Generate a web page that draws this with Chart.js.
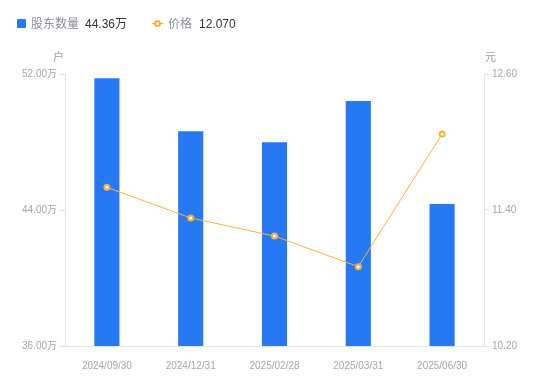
<!DOCTYPE html>
<html>
<head>
<meta charset="utf-8">
<script src="https://cdn.jsdelivr.net/npm/chart.js@4/dist/chart.umd.min.js"></script>
<style>
  html, body { margin: 0; padding: 0; background: #fff; }
  #wrap { position: relative; width: 550px; height: 381px; font-family: "Liberation Sans", Arial, "Noto Sans CJK SC", sans-serif; }
  canvas { position: absolute; left: 0; top: 0; }
  .t { position: absolute; white-space: nowrap; line-height: 1; }
  .lg { font-size: 12px; top: 18px; }
  .gray { color: #8a8f99; }
  .dark { color: #333; }
  .unit { font-size: 11px; color: #9a9ea8; top: 52px; }
  #sq { position: absolute; left: 17px; top: 19px; width: 9px; height: 9px; background: #2679F2; border-radius: 1px; }
  #ln { position: absolute; left: 152px; top: 23px; width: 11px; height: 1px; background: #FBB03B; }
  #dot { position: absolute; left: 154px; top: 20px; width: 3px; height: 3px; border: 2px solid #FBB03B; background: #fff; border-radius: 50%; }
</style>
</head>
<body>
<div id="wrap">
  <canvas id="c" width="550" height="381"></canvas>
  <div id="sq"></div>
  <div class="t lg gray" style="left:31px" id="l1name"></div>
  <div class="t lg dark" style="left:85px" id="l1val"></div>
  <div id="ln"></div><div id="dot"></div>
  <div class="t lg gray" style="left:168px" id="l2name"></div>
  <div class="t lg dark" style="left:199px" id="l2val"></div>
  <div class="t unit" style="left:53px" id="u1"></div>
  <div class="t unit" style="left:485px" id="u2"></div>
</div>
<script>
const categories = ["2024/09/30", "2024/12/31", "2025/02/28", "2025/03/31", "2025/06/30"];
const holders = [51.75, 48.63, 47.98, 50.41, 44.36];   // 股东数量 (万户)
const prices = [11.60, 11.33, 11.17, 10.90, 12.07];    // 价格 (元)
const leftTicks = [36, 44, 52];
const rightTicks = [10.20, 11.40, 12.60];
const seriesNames = ["股东数量", "价格"];
const unitLeft = "户";
const unitRight = "元";

document.getElementById('l1name').textContent = seriesNames[0];
document.getElementById('l1val').textContent = holders[holders.length - 1].toFixed(2) + '万';
document.getElementById('l2name').textContent = seriesNames[1];
document.getElementById('l2val').textContent = prices[prices.length - 1].toFixed(3);
document.getElementById('u1').textContent = unitLeft;
document.getElementById('u2').textContent = unitRight;

const axisColor = '#e3e4e8';
const tickColor = '#a3a7b3';
const tickFont = { family: '"Liberation Sans", Arial, "Noto Sans CJK SC", sans-serif', size: 10 };

new Chart(document.getElementById('c'), {
  type: 'bar',
  data: {
    labels: categories,
    datasets: [
      {
        type: 'line',
        label: seriesNames[1],
        data: prices,
        yAxisID: 'y1',
        borderColor: '#FBB03B',
        borderWidth: 1,
        pointRadius: 2.5,
        pointBorderWidth: 2,
        pointBackgroundColor: '#ffffff',
        pointBorderColor: '#FBB03B',
        tension: 0,
        order: 0
      },
      {
        type: 'bar',
        label: seriesNames[0],
        data: holders,
        yAxisID: 'y',
        backgroundColor: '#2679F2',
        borderWidth: 0,
        categoryPercentage: 1,
        barPercentage: 0.3,
        order: 1
      }
    ]
  },
  options: {
    responsive: false,
    animation: false,
    layout: { padding: { top: 74, left: 0, right: 0, bottom: 0 } },
    plugins: { legend: { display: false }, tooltip: { enabled: false } },
    scales: {
      x: {
        grid: { display: false },
        border: { display: true, color: axisColor },
        ticks: { color: tickColor, font: tickFont, padding: 6, maxRotation: 0 },
        afterFit: (s) => { s.height = 35; }
      },
      y: {
        position: 'left',
        min: leftTicks[0],
        max: leftTicks[leftTicks.length - 1],
        afterBuildTicks: (s) => { s.ticks = leftTicks.map(v => ({ value: v })); },
        grid: { drawOnChartArea: false, drawTicks: true, tickLength: 5, color: axisColor },
        border: { display: true, color: axisColor },
        ticks: { color: tickColor, font: tickFont, padding: 3, callback: (v) => Number(v).toFixed(2) + '万' },
        afterFit: (s) => { s.width = 65; }
      },
      y1: {
        position: 'right',
        min: rightTicks[0],
        max: rightTicks[rightTicks.length - 1],
        afterBuildTicks: (s) => { s.ticks = rightTicks.map(v => ({ value: v })); },
        grid: { drawOnChartArea: false, drawTicks: true, tickLength: 5, color: axisColor },
        border: { display: true, color: axisColor },
        ticks: { color: tickColor, font: tickFont, padding: 3, callback: (v) => Number(v).toFixed(2) },
        afterFit: (s) => { s.width = 66; }
      }
    }
  }
});
</script>
</body>
</html>
